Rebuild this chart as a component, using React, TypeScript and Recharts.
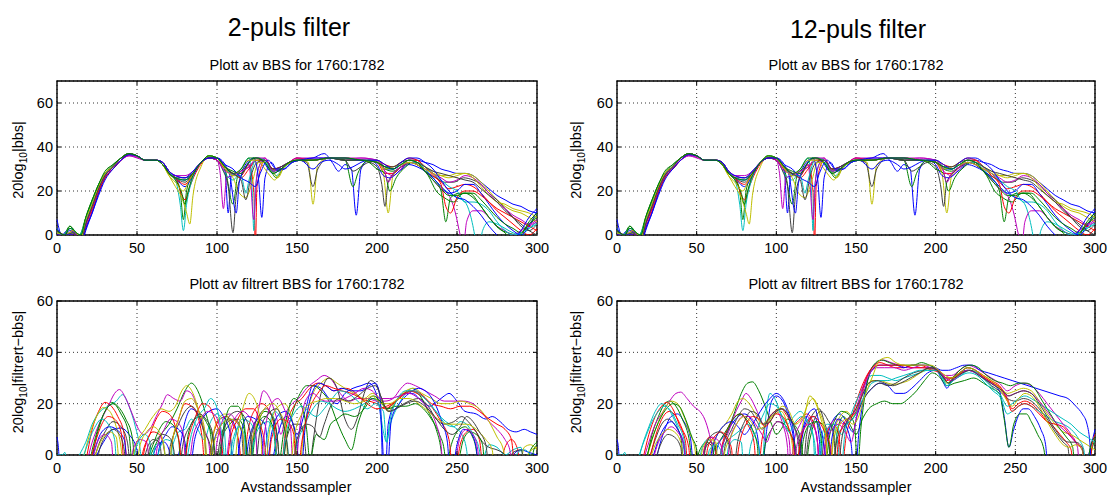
import React from 'react';
import { LineChart, Line, XAxis, YAxis, CartesianGrid, ReferenceArea, ReferenceLine } from 'recharts';

// MATLAB's old default colour order: b, g, r, c, m, y, k
const lineColors = ['#0000ff', '#008000', '#ff0000', '#00bfbf', '#bf00bf', '#bfbf00', '#404040'];
const xTicks = [0, 50, 100, 150, 200, 250, 300];
const yTicks = [0, 20, 40, 60];

// raw BBS, 20log10|bbs| — [sample, dB] knots per record (same in both top plots)
const rawBbs: number[][][] = [
  [[0,7],[3,0],[6,2],[9,3],[12,0],[15,-3],[18,5],[22,13],[26,21],[30,27],[35,31],[40,35],[45,37],[50,36],[55,34],[62,34],[66,32],[70,28],[74,26],[80,25],[85,28],[90,33],[95,35],[100,34],[105,29],[107,10],[109,27],[115,29],[120,34],[125,35],[129,33],[135,28],[140,30],[145,33],[150,34],[160,35],[167,37],[172,33],[176,29],[180,32],[184,30],[187,9],[190,30],[195,34],[200,33],[205,30],[210,30],[215,32],[220,34],[225,34],[230,33],[235,32],[240,30],[245,29],[250,28],[255,28],[260,27],[265,24],[270,21],[275,18],[280,16],[285,14],[290,13],[295,11],[300,10]],
  [[0,2],[4,0],[8,4],[11,2],[14,0],[18,8],[22,15],[26,22],[30,28],[35,31],[40,35],[45,37],[50,36],[55,34],[62,34],[66,32],[70,28],[74,26],[77,20],[79,7],[81,20],[85,28],[90,33],[95,36],[100,35],[105,30],[110,14],[113,27],[118,31],[123,35],[128,34],[133,30],[137,26],[142,31],[147,33],[152,34],[160,34],[170,35],[180,34],[185,22],[188,28],[195,34],[200,33],[205,30],[210,29],[215,31],[220,33],[225,32],[230,29],[235,26],[240,20],[243,6],[246,17],[252,19],[258,19],[264,14],[270,8],[276,3],[282,1],[288,0],[294,4],[300,8]],
  [[0,1],[5,0],[10,1],[15,-4],[18,3],[22,11],[26,19],[30,26],[35,30],[40,34],[45,37],[50,36],[55,34],[62,34],[66,33],[70,29],[74,26],[80,16],[83,22],[88,30],[95,35],[100,35],[105,31],[110,27],[115,27],[120,32],[123,20],[124,-5],[125,22],[130,34],[135,29],[140,31],[145,33],[150,34],[160,34],[170,35],[180,34],[190,34],[200,33],[205,28],[210,28],[215,31],[220,34],[225,34],[230,31],[235,28],[240,24],[245,21],[250,22],[255,23],[260,22],[265,19],[270,15],[275,11],[280,8],[285,5],[290,2],[295,0],[300,3]],
  [[0,3],[4,0],[8,3],[11,2],[14,0],[18,7],[22,15],[26,23],[30,28],[35,31],[40,35],[45,37],[50,36],[55,34],[62,34],[66,32],[70,28],[74,25],[77,14],[79,2],[81,14],[85,26],[90,33],[95,35],[100,34],[105,28],[110,25],[115,30],[120,35],[122,20],[123,2],[124,22],[128,33],[133,31],[137,27],[142,31],[147,33],[152,34],[160,34],[170,35],[180,34],[190,34],[200,33],[205,31],[210,30],[215,32],[220,34],[225,33],[230,30],[235,26],[240,22],[245,19],[250,17],[255,15],[258,10],[261,0],[263,-10],[266,2],[270,6],[275,5],[280,3],[285,1],[290,0],[295,3],[300,6]],
  [[0,0],[5,0],[10,0],[15,-3],[18,4],[22,12],[26,20],[30,27],[35,30],[40,34],[45,36],[50,35.5],[55,34],[62,34],[66,33],[70,29],[74,27],[80,27],[85,29],[90,33],[95,35],[100,34],[102,28],[104,12],[106,26],[110,27],[115,28],[120,32],[123,7],[125,28],[130,35],[135,30],[140,31],[145,33],[150,35],[160,34],[170,35],[180,34],[190,35],[200,34],[205,29],[210,27],[215,30],[220,33],[225,32],[230,29],[235,25],[240,21],[245,18],[249,10],[252,0],[254,-5],[256,6],[260,11],[265,11],[270,8],[275,4],[280,2],[285,0],[290,2],[295,4],[300,6]],
  [[0,1],[5,0],[10,1],[15,-2],[18,6],[22,14],[26,22],[30,28],[35,31],[40,35],[45,37],[50,36],[55,34],[62,34],[66,32],[70,27],[74,22],[78,17],[81,10],[83,5],[85,18],[90,31],[95,36],[100,35],[105,30],[110,26],[114,19],[118,17],[122,24],[126,33],[130,33],[135,29],[138,26],[142,31],[147,33],[152,34],[157,33],[160,14],[163,32],[170,35],[180,35],[190,34],[200,34],[204,28],[207,10],[210,27],[215,31],[220,33],[225,33],[230,31],[235,29],[240,27],[245,26],[250,27],[255,28],[260,27],[265,24],[270,20],[275,16],[280,13],[285,11],[290,10],[295,8],[300,6]],
  [[0,2],[5,0],[10,2],[15,-3],[18,5],[22,13],[26,21],[30,27],[35,31],[40,35],[45,37],[50,36],[55,34],[62,34],[66,32],[70,28],[74,26],[80,24],[85,28],[90,33],[95,35],[100,34],[104,29],[107,22],[110,1],[112,18],[116,28],[120,31],[125,34],[130,34],[135,29],[140,30],[145,33],[150,34],[156,33],[160,22],[163,30],[170,35],[180,34],[185,29],[190,31],[195,33],[200,31],[203,23],[205,13],[207,24],[212,29],[218,32],[222,33],[227,31],[232,28],[237,26],[242,24],[248,24],[254,26],[260,25],[265,23],[270,19],[275,16],[280,12],[285,8],[290,4],[295,2],[300,5]],
  [[0,3],[4,0],[8,2],[12,0],[15,-4],[18,3],[22,10],[26,19],[30,26],[35,30],[40,34],[45,36.5],[50,36],[55,34],[62,34],[66,33],[70,29],[74,26],[80,22],[85,27],[90,33],[95,35],[100,35],[105,32],[108,27],[112,10],[114,24],[118,31],[123,35],[126,25],[128,8],[130,26],[134,33],[138,29],[142,30],[147,33],[152,34],[160,30],[165,33],[170,34],[176,32],[180,30],[185,31],[190,33],[195,34],[200,32],[204,27],[208,26],[214,29],[220,32],[225,31],[230,29],[235,26],[240,22],[245,19],[250,20],[255,23],[260,23],[265,19],[270,14],[275,9],[280,5],[285,2],[290,0],[295,4],[300,11]],
  [[0,2],[5,0],[8,3],[12,1],[15,0],[18,8],[22,16],[26,23],[30,28],[35,32],[40,35],[45,37],[50,36],[55,34],[62,34],[66,32],[70,28],[74,25],[78,19],[80,14],[82,20],[86,29],[90,33],[95,36],[100,35],[105,31],[110,29],[115,28],[120,33],[125,35],[130,34],[135,30],[140,30],[145,33],[150,34],[160,34],[170,35],[180,34],[190,34],[195,33],[200,30],[205,28],[208,20],[212,26],[218,31],[222,33],[227,31],[232,27],[237,20],[242,17],[248,15],[254,19],[260,19],[265,16],[270,12],[275,8],[280,5],[285,3],[290,1],[295,5],[300,9]],
  [[0,2],[5,0],[10,1],[15,-3],[18,5],[22,12],[26,20],[30,26],[35,30],[40,34],[45,36.5],[50,36],[55,34],[62,34],[66,33],[70,29],[74,26],[80,23],[85,28],[90,33],[95,35],[100,34],[105,30],[110,28],[115,26],[120,30],[125,34],[130,34],[135,30],[140,31],[145,33],[150,35],[160,34],[170,35],[180,35],[190,34],[200,34],[205,32],[210,31],[215,33],[220,35],[225,34],[230,31],[235,27],[240,23],[243,13],[246,10],[250,17],[255,20],[260,20],[265,18],[270,15],[275,12],[280,10],[285,8],[290,6],[295,4],[300,2]],
  [[0,1],[5,0],[10,1],[15,-2],[18,6],[22,13],[26,21],[30,27],[35,31],[40,35],[45,37],[50,36],[55,34],[62,34],[66,33],[70,29],[74,26],[80,25],[85,29],[90,33],[95,36],[100,35],[105,31],[110,27],[115,27],[118,19],[120,25],[125,35],[130,34],[135,29],[140,31],[145,33],[150,34],[160,34],[170,35],[180,35],[190,34],[200,34],[205,31],[210,30],[215,32],[220,33],[225,33],[230,31],[235,28],[240,25],[245,22],[250,20],[255,15],[260,15],[265,14],[270,11],[275,6],[280,2],[285,0],[290,1],[295,3],[300,5]],
  [[0,2],[5,0],[10,2],[15,-3],[18,5],[22,13],[26,21],[30,27],[35,31],[40,34],[45,36],[50,35],[55,34],[62,34],[66,33],[70,29],[74,27],[80,26],[85,29],[90,33],[95,35],[100,34],[105,29],[110,28],[115,29],[120,31],[125,35],[130,35],[135,29],[140,31],[145,33],[150,35],[160,35],[170,35],[180,35],[190,35],[200,34],[204,31],[207,24],[210,28],[215,31],[220,33],[225,32],[230,30],[235,28],[240,26],[245,24],[250,25],[255,27],[260,26],[265,23],[270,19],[275,15],[280,12],[285,9],[290,7],[295,5],[300,7]],
  [[0,1],[5,0],[10,2],[15,-1],[18,7],[22,14],[26,22],[30,28],[35,31],[40,35],[45,37],[50,36],[55,34],[62,34],[66,32],[70,27],[74,24],[79,20],[82,24],[86,29],[90,33],[95,36],[100,35],[105,30],[110,27],[115,30],[120,34],[125,34],[130,30],[133,27],[136,25],[140,29],[145,33],[150,34],[160,34],[170,35],[180,35],[190,34],[200,33],[205,30],[210,31],[215,32],[220,33],[225,32],[230,30],[235,28],[240,27],[245,27],[250,28],[255,28],[260,26],[265,22],[270,18],[275,15],[280,14],[285,12],[290,11],[295,10],[300,8]],
  [[0,2],[5,0],[10,1],[15,-3],[18,5],[22,13],[26,21],[30,27],[35,31],[40,35],[45,37],[50,36],[55,34],[62,34],[66,33],[70,28],[74,26],[80,26],[85,28],[90,33],[95,35],[100,35],[105,31],[110,28],[115,25],[118,16],[121,26],[125,33],[130,34],[135,30],[140,31],[145,33],[150,34],[160,34],[170,35],[180,34],[190,34],[200,33],[205,31],[210,31],[215,33],[220,34],[225,33],[230,31],[235,29],[240,28],[245,27],[250,26],[255,25],[260,24],[265,21],[270,18],[275,15],[280,11],[285,8],[290,5],[295,2],[300,0]],
  [[0,0],[5,0],[10,0],[15,-5],[18,2],[22,10],[26,18],[30,25],[35,30],[40,34],[45,36.5],[50,36],[55,34],[62,34],[66,33],[70,29],[74,27],[80,26],[85,29],[90,33],[95,35],[100,35],[105,32],[110,30],[115,26],[120,24],[124,22],[127,28],[132,34],[137,30],[142,30],[147,33],[152,34],[160,35],[170,35],[180,35],[190,34],[200,34],[205,32],[210,30],[215,33],[220,35],[225,35],[230,33],[235,30],[240,25],[245,20],[250,17],[255,16],[260,13],[265,9],[270,4],[275,0],[280,-3],[285,-2],[290,2],[295,8],[300,12]],
  [[0,2],[5,0],[8,4],[12,1],[15,0],[18,8],[22,16],[26,23],[30,29],[35,32],[40,35],[45,37],[50,36],[55,34],[62,34],[66,32],[70,28],[74,26],[80,25],[85,28],[90,33],[95,36],[100,35],[105,31],[110,28],[115,30],[120,35],[125,35],[130,33],[135,28],[140,30],[145,33],[150,34],[160,34],[170,35],[180,35],[190,34],[200,33],[205,31],[210,30],[215,32],[220,34],[225,33],[230,29],[235,25],[240,21],[245,18],[250,18],[255,19],[260,17],[265,13],[270,8],[275,4],[280,1],[285,-2],[290,0],[295,6],[300,10]],
];

// 2-puls filtered BBS, 20log10|filtrert-bbs|
const filt2: number[][][] = [
  [[0,7],[1,2],[2,-10],[20,-10],[25,0],[30,6],[35,10],[40,10.5],[45,8],[50,2],[53,-10],[58,-5],[62,3],[67,5],[70,2],[72,-10],[76,0],[80,13],[84,18],[88,16],[92,8],[95,-10],[98,5],[103,12],[108,14],[112,10],[116,-10],[120,6],[126,14],[130,12],[133,-5],[138,8],[143,15],[147,13],[150,8],[155,17],[160,27],[165,26],[170,22],[175,20],[180,24],[185,26],[190,27],[195,28],[200,23],[203,10],[205,-10],[207,12],[212,21],[217,24],[222,24],[228,21],[233,19],[238,21],[242,23],[245,24],[250,21],[255,17],[262,16],[268,14],[272,15],[277,13],[282,10],[287,9],[292,10],[296,9],[300,8]],
  [[0,0],[10,-10],[20,-5],[25,8],[30,17],[34,20.5],[38,19],[43,14],[47,7],[50,-10],[55,-5],[60,2],[65,8],[70,12],[75,18],[80,25],[84,28],[88,25],[92,18],[96,8],[99,-10],[103,6],[108,12],[113,14],[117,10],[120,-10],[124,8],[130,17],[135,15],[138,5],[140,-10],[143,5],[148,18],[152,24],[156,27],[160,27],[165,25],[170,21],[175,13],[180,6],[184,2],[188,12],[193,20],[198,23],[202,21],[206,18],[212,21],[217,24],[222,25],[227,23],[232,17],[237,10],[240,2],[242,-10],[246,3],[250,9],[255,11],[259,8],[262,2],[264,-10],[290,-10],[296,2],[300,5]],
  [[0,0],[12,-10],[18,-2],[22,10],[26,17],[30,20.5],[34,19],[38,15],[42,8],[45,-10],[52,-6],[55,3],[60,9],[64,8],[67,2],[69,-10],[72,5],[76,14],[80,20],[84,19],[88,15],[91,5],[93,-10],[97,6],[102,14],[106,15],[110,12],[114,4],[116,-10],[119,8],[124,18],[128,20],[132,18],[136,10],[139,-10],[143,10],[148,19],[153,22],[158,26],[163,28],[168,27],[173,25],[180,26],[185,25],[190,22],[195,21],[200,20],[205,18],[210,20],[215,23],[220,25],[225,24],[230,22],[235,18],[240,13],[245,6],[248,-10],[252,4],[256,9],[260,10],[264,6],[267,-10],[275,-10],[280,3],[284,6],[288,2],[290,-10],[300,-10]],
  [[0,0],[3,0],[5,1],[7,-10],[14,0],[18,5],[22,12],[27,17],[32,19],[37,21],[41,23.5],[45,19],[49,11],[52,2],[54,-10],[58,-6],[62,4],[66,5],[69,-5],[72,3],[76,9],[80,10],[84,14],[88,10],[92,6],[96,13],[100,16],[104,13],[107,-10],[111,6],[116,14],[120,13],[124,8],[127,-10],[131,6],[136,17],[140,14],[144,4],[146,-10],[150,4],[155,12],[160,18],[165,21],[170,20],[175,18],[180,17],[186,18],[192,20],[197,22],[201,20],[204,9],[206,5],[208,11],[213,19],[218,24],[222,26],[227,24],[233,20],[238,16],[243,13],[248,11],[253,8],[256,2],[258,-10],[265,-5],[270,4],[275,3],[280,0],[285,2],[290,3],[293,-10],[300,-10]],
  [[0,0],[12,-10],[18,-4],[22,5],[27,13],[32,19],[36,24],[39,25.5],[43,22],[47,16],[51,10],[54,8],[58,10],[62,15],[66,20],[69,23.5],[73,22],[77,21],[81,25],[84,24],[88,18],[92,10],[95,4],[97,-10],[100,5],[104,14],[108,16],[112,13],[116,8],[119,-10],[122,5],[126,18],[129,25],[133,22],[137,15],[140,8],[143,16],[147,20],[151,22],[156,26],[162,29],[167,31],[172,29],[177,24],[183,21],[188,22],[194,22],[200,21],[205,21],[210,22],[215,26],[219,28],[224,27],[230,25],[236,23],[242,21],[248,21],[254,21],[260,20],[265,17],[270,13],[275,10],[280,6],[283,2],[285,-10],[300,-10]],
  [[0,0],[10,-10],[15,-5],[19,5],[24,14],[29,18.5],[33,17],[37,11],[40,3],[42,-10],[46,-4],[50,5],[55,10],[60,15],[65,18],[70,17],[74,19],[78,25],[81,27],[85,24],[89,16],[92,7],[94,-10],[97,6],[101,14],[105,16],[108,12],[110,-10],[113,8],[117,20],[120,24],[124,21],[127,13],[129,-10],[133,10],[137,18],[142,20],[146,16],[149,5],[151,-10],[154,8],[160,24],[165,28],[170,30],[175,28],[180,26],[186,24],[192,22],[197,24],[202,22],[207,17],[212,21],[218,25],[223,26],[228,24],[234,22],[240,20],[246,20],[252,21],[258,20],[264,18],[270,13],[275,7],[279,2],[282,-10],[290,-10],[295,1],[300,3]],
  [[0,0],[15,-10],[22,-4],[26,4],[30,9],[35,13],[40,11],[44,5],[47,-10],[52,-8],[56,2],[60,6],[64,5],[67,-10],[71,4],[76,12],[80,17],[84,19],[88,16],[92,9],[96,3],[98,-10],[102,6],[107,13],[111,14],[115,10],[118,-10],[121,6],[126,15],[131,18],[135,14],[138,5],[140,-10],[143,5],[148,12],[152,12],[155,4],[157,-10],[160,5],[165,24],[170,30],[175,26],[180,14],[184,10],[188,15],[192,24],[196,29],[200,27],[204,20],[208,17],[214,19],[220,21],[226,22],[232,19],[237,14],[242,12],[248,13],[253,15],[257,13],[262,9],[266,5],[270,3],[275,2],[280,0],[284,-10],[300,-10]],
  [[0,0],[15,-10],[20,-6],[24,3],[28,9],[33,11],[37,10],[42,6],[45,-10],[60,-10],[64,3],[68,8],[72,11],[76,10],[80,5],[82,-10],[86,6],[90,13],[95,17],[100,18],[104,15],[108,9],[111,-10],[115,8],[119,15],[124,14],[128,7],[130,-10],[134,8],[139,16],[143,17],[147,13],[150,4],[152,-10],[155,10],[160,25],[164,28],[168,27],[173,25],[178,26],[184,25],[190,25],[195,27],[199,28],[202,22],[204,-10],[206,-10],[209,14],[214,20],[220,24],[226,26],[232,24],[237,19],[241,12],[244,5],[246,-10],[250,4],[254,10],[258,9],[262,3],[264,-10],[280,-10],[285,0],[290,2],[295,1],[300,0]],
  [[0,0],[18,-10],[22,2],[26,11],[30,17],[35,20],[40,16],[45,8],[48,-10],[55,-4],[60,4],[64,10],[68,13],[72,12],[76,6],[78,-10],[82,8],[86,14],[90,15],[94,12],[98,5],[100,-10],[104,10],[109,19],[113,19],[117,12],[120,-5],[124,10],[130,15],[135,11],[138,-5],[142,10],[148,22],[152,20],[156,10],[158,-2],[162,8],[167,6],[171,12],[175,14],[180,16],[186,15],[192,18],[197,22],[202,21],[207,18],[212,19],[218,19],[224,20],[229,18],[234,14],[239,8],[242,2],[244,-10],[250,-5],[254,6],[258,9],[262,8],[266,4],[268,-10],[295,-10],[298,2],[300,4]],
  [[0,0],[16,-10],[20,-4],[24,5],[28,12],[32,15],[36,14],[40,9],[43,-10],[50,-10],[54,2],[58,8],[62,14],[66,17],[70,16],[74,11],[77,2],[78,-10],[82,6],[86,14],[91,20],[95,19],[99,13],[103,4],[105,-10],[108,5],[113,14],[118,18],[123,18],[127,12],[130,3],[131,-10],[134,6],[140,14],[144,13],[148,8],[150,-10],[153,5],[158,18],[163,24],[168,27],[173,26],[178,25],[184,24],[190,22],[196,19],[200,18],[206,19],[212,21],[218,24],[223,25],[229,23],[234,20],[240,19],[246,18],[252,19],[258,19],[264,17],[270,14],[275,12],[280,10],[284,6],[287,-10],[300,-10]],
  [[0,0],[8,-10],[15,-3],[19,4],[23,10],[28,14],[32,12],[36,6],[38,-10],[45,-10],[50,4],[55,8],[58,5],[60,-10],[64,2],[68,6],[72,5],[74,-10],[80,-5],[84,8],[88,15],[92,18],[96,22],[99,20],[102,12],[104,3],[106,-10],[110,6],[114,11],[117,8],[119,-10],[123,5],[128,12],[132,13],[136,7],[139,-10],[143,8],[148,16],[153,19],[157,17],[162,15],[167,18],[172,22],[177,25],[182,24],[188,21],[194,18],[199,20],[204,17],[206,5],[208,13],[213,22],[218,25],[223,25],[228,23],[233,20],[238,16],[243,12],[248,11],[252,13],[256,12],[260,8],[264,2],[266,-10],[284,-10],[288,1],[292,2],[296,0],[298,-10],[300,-10]],
  [[0,0],[18,-10],[22,-2],[26,6],[30,8],[34,5],[36,-10],[44,-10],[48,3],[52,6],[56,5],[59,-10],[63,4],[67,10],[71,14],[75,13],[79,8],[81,-10],[85,7],[90,14],[94,17],[98,16],[102,10],[104,-10],[108,8],[112,15],[116,17],[120,15],[124,10],[126,-10],[130,10],[134,20],[138,22],[142,18],[146,10],[148,-10],[152,12],[156,22],[160,24],[164,22],[168,21],[174,21],[180,22],[186,24],[192,26],[197,25],[202,22],[208,22],[214,23],[220,24],[226,22],[232,18],[237,12],[240,4],[242,-10],[248,-5],[252,7],[256,10],[260,8],[263,2],[265,-10],[300,-10]],
  [[0,0],[20,-10],[24,0],[28,6],[33,9],[37,7],[40,-10],[48,-10],[52,4],[56,9],[60,11],[64,9],[67,3],[69,-10],[72,5],[76,14],[80,21],[84,22],[88,18],[92,11],[95,-10],[98,4],[103,12],[108,14],[112,13],[116,9],[118,-10],[122,6],[127,15],[131,19],[135,20],[139,17],[143,10],[145,-10],[148,6],[153,16],[158,20],[163,21],[168,22],[174,22],[180,21],[186,20],[192,21],[197,23],[203,20],[208,20],[214,22],[220,22],[226,20],[232,17],[238,14],[244,12],[250,12],[256,12],[262,10],[268,6],[272,2],[274,-10],[288,-10],[292,3],[296,4],[300,2]],
  [[0,0],[22,-10],[27,3],[31,8],[35,10],[39,8],[42,2],[44,-10],[55,-10],[58,3],[62,6],[66,8],[70,7],[73,2],[75,-10],[79,5],[84,12],[89,16],[93,14],[97,9],[100,-10],[104,8],[109,16],[113,17],[117,15],[121,8],[123,-10],[127,10],[132,16],[137,18],[141,13],[144,3],[146,-10],[150,6],[156,12],[160,11],[164,7],[167,12],[172,20],[177,22],[182,21],[188,23],[194,26],[199,27],[203,22],[207,17],[212,18],[218,20],[224,21],[230,19],[236,15],[242,10],[247,8],[252,11],[256,15],[260,13],[264,9],[268,4],[271,-10],[280,-10],[285,1],[290,2],[294,-10],[300,-10]],
];

// 12-puls filtered BBS, 20log10|filtrert-bbs|
const filt12: number[][][] = [
  [[0,6],[1,2],[2,-10],[22,-10],[26,2],[30,10],[34,15],[38,16],[42,13],[46,7],[49,-10],[60,-10],[63,3],[68,8],[72,12],[76,15],[80,16],[84,14],[88,8],[91,-5],[94,10],[97,21],[100,23],[104,21],[108,14],[111,5],[113,-10],[116,6],[120,14],[124,15],[127,6],[129,-10],[132,6],[136,14],[140,16],[144,13],[148,9],[151,16],[155,22],[160,26],[165,28],[170,27],[175,24],[180,24],[185,26],[190,29],[195,32],[200,33],[205,28],[207,26],[210,29],[215,32],[220,33],[225,32],[230,30],[235,28],[240,25],[243,15],[246,3],[249,10],[255,18],[258,18],[262,15],[266,10],[269,4],[271,-10],[290,-10],[296,0],[300,10]],
  [[0,0],[14,-10],[18,-3],[22,8],[26,15],[30,20],[33,21],[37,19],[41,14],[45,7],[48,-5],[52,2],[56,5],[60,3],[62,-10],[66,3],[70,10],[74,17],[78,24],[82,28],[85,28.5],[89,25],[93,19],[97,12],[100,8],[103,10],[107,14],[111,12],[115,7],[118,-5],[121,6],[125,13],[129,12],[133,4],[135,-10],[138,8],[142,15],[146,12],[150,8],[154,14],[158,18],[163,20],[168,21],[173,20],[178,20],[183,22],[188,25],[193,29],[198,32],[203,30],[207,27],[212,28],[218,29],[224,30],[230,28],[235,26],[240,24],[243,14],[246,3],[249,12],[253,16],[257,16],[260,13],[264,8],[268,2],[270,-10],[295,-10],[298,2],[300,6]],
  [[0,0],[12,-10],[16,-2],[20,8],[24,15],[28,19],[31,20.5],[35,18],[39,12],[43,5],[45,-10],[52,-8],[55,3],[58,7],[61,6],[63,-5],[66,4],[70,11],[74,15],[78,16],[82,12],[86,5],[88,-10],[91,6],[95,14],[99,17],[103,18],[107,15],[111,12],[115,14],[119,16],[123,13],[126,4],[128,-10],[131,6],[135,12],[139,9],[141,-5],[144,8],[148,16],[152,24],[156,30],[160,34],[165,36],[170,35],[175,34],[180,34],[185,35],[190,35],[195,34],[200,33],[204,31],[207,29],[210,30],[215,32],[220,34],[225,33],[230,31],[235,29],[240,27],[245,22],[248,18],[252,20],[256,21],[260,20],[265,17],[270,13],[274,11],[278,8],[282,5],[285,2],[287,-10],[296,-10],[298,3],[300,8]],
  [[0,0],[3,0],[5,1],[7,-10],[12,-5],[16,4],[20,11],[24,17],[28,20],[31,19],[35,15],[39,9],[42,2],[44,-10],[50,-10],[53,2],[57,6],[60,4],[62,-10],[66,2],[70,6],[74,8],[78,10],[82,12],[86,8],[89,3],[91,-5],[93,12],[96,24],[99,22],[103,16],[107,12],[111,15],[115,17],[119,14],[123,8],[125,-10],[128,6],[132,12],[136,11],[139,2],[140,-10],[143,8],[147,16],[151,22],[155,27],[160,31],[165,31],[170,30],[175,29],[180,30],[185,31],[190,32],[195,33],[200,33],[204,30],[207,27],[211,29],[216,31],[221,32],[226,31],[231,28],[236,25],[241,22],[245,16],[248,17],[252,19],[256,20],[260,19],[265,17],[270,15],[275,13],[280,12],[285,10],[290,6],[293,2],[295,-10],[300,-10]],
  [[0,0],[10,-10],[16,-3],[20,5],[24,12],[29,17],[33,21],[37,24],[40,24.5],[44,22],[48,19],[52,17],[55,14],[58,8],[60,2],[62,-10],[66,3],[70,9],[74,16],[78,21],[81,24],[84,22],[88,17],[92,12],[96,15],[100,17],[104,12],[107,3],[108,-10],[111,5],[115,12],[119,15],[123,12],[126,4],[127,-10],[130,6],[134,12],[138,14],[142,12],[146,14],[150,18],[154,26],[158,32],[163,36],[167,37],[172,36],[177,35],[182,34],[187,34],[192,34],[197,34],[202,33],[206,31],[210,31],[215,33],[220,35],[225,34],[230,32],[235,30],[240,28],[245,25],[250,27],[255,28],[260,27],[265,24],[270,20],[275,16],[280,12],[285,8],[289,3],[291,-10],[300,-10]],
  [[0,0],[15,-10],[18,-3],[22,6],[26,13],[30,18],[34,21],[38,20],[42,15],[46,8],[49,2],[51,-10],[56,-5],[60,4],[64,9],[68,12],[72,16],[76,21],[79,22],[83,20],[87,16],[91,12],[95,14],[99,16],[103,17],[107,12],[110,4],[112,-8],[115,6],[118,16],[121,23],[124,21],[128,14],[131,6],[133,-10],[136,8],[140,15],[144,17],[148,15],[152,20],[156,26],[160,29],[165,29],[170,28],[174,27.5],[178,28],[183,29],[188,31],[193,33],[198,34],[203,32],[207,28],[211,30],[216,32],[221,33],[226,32],[231,30],[236,28],[241,26],[245,24],[250,25],[255,26],[260,25],[265,21],[270,16],[275,12],[280,9],[285,8],[290,6],[295,4],[300,2]],
  [[0,0],[16,-10],[20,-2],[24,6],[28,12],[32,14],[36,12],[40,7],[43,-10],[52,-10],[55,2],[59,5],[62,2],[64,-10],[68,4],[72,10],[76,15],[80,18],[84,17],[88,13],[91,10],[95,14],[99,17],[103,18],[107,16],[111,11],[114,4],[116,-10],[119,8],[123,16],[127,18],[130,13],[133,5],[135,-10],[138,6],[142,11],[146,13],[150,16],[155,22],[160,26],[165,28],[170,27],[175,28],[180,30],[186,32],[192,33],[197,34],[202,33],[206,30],[210,30],[215,32],[220,34],[225,33],[230,30],[235,27],[240,25],[245,22],[250,21],[255,22],[260,21],[265,18],[270,14],[275,9],[280,5],[283,3],[285,-10],[300,-10]],
  [[0,0],[18,-10],[22,-2],[26,6],[30,11],[34,13],[38,10],[42,4],[44,-10],[56,-10],[60,3],[64,9],[68,12],[72,13],[76,11],[80,8],[84,11],[88,15],[92,19],[96,22],[100,24],[104,22],[108,16],[111,8],[113,-5],[116,8],[120,16],[124,18],[127,12],[130,3],[132,-10],[135,7],[139,14],[143,12],[147,4],[149,-10],[152,10],[156,26],[160,33],[165,35],[170,35],[175,35],[180,34],[185,35],[190,35],[195,35],[200,34],[204,33],[208,33],[213,34],[218,35],[223,35],[228,33],[233,32],[238,31],[243,30],[248,29],[253,28],[258,27],[263,26],[268,25],[273,24],[278,23],[283,22],[288,19],[292,16],[295,12],[297,3],[298,-10],[300,-10]],
  [[0,0],[15,-10],[19,0],[23,8],[27,14],[31,18],[35,20],[39,19],[43,14],[47,7],[50,2],[52,-10],[58,-10],[61,2],[65,6],[69,10],[73,14],[77,16],[81,14],[85,10],[88,4],[90,-10],[93,4],[97,10],[101,13],[105,12],[109,8],[112,3],[114,-10],[117,6],[121,12],[125,13],[128,7],[130,-10],[133,6],[137,14],[141,17],[145,16],[149,12],[151,-5],[153,10],[157,28],[161,35],[166,37],[171,36],[176,35],[181,35],[186,35],[191,36],[196,35],[201,33],[205,30],[208,28],[212,31],[217,34],[222,35],[227,34],[232,31],[237,29],[242,28],[247,27],[252,28],[257,28],[262,26],[267,21],[272,16],[277,11],[282,7],[286,3],[288,-10],[294,-10],[297,3],[300,7]],
  [[0,0],[17,-10],[21,0],[25,9],[29,15],[33,17],[37,15],[41,10],[45,3],[47,-10],[54,-10],[57,3],[61,7],[65,9],[69,7],[72,2],[73,-10],[77,5],[81,12],[85,15],[89,14],[93,11],[96,13],[100,16],[104,15],[108,10],[111,3],[112,-10],[115,5],[119,12],[123,15],[127,13],[131,8],[134,3],[136,-10],[139,5],[143,13],[147,15],[151,18],[155,27],[159,33],[164,35],[169,35],[174,35],[180,35],[186,34],[192,34],[198,33],[203,32],[207,30],[211,30],[216,32],[221,33],[226,32],[231,30],[236,28],[241,26],[245,21],[248,17],[252,19],[256,20],[260,19],[265,16],[270,13],[275,12],[280,11],[284,8],[288,5],[292,2],[294,-10],[300,-10]],
  [[0,0],[10,-10],[14,0],[18,7],[22,13],[26,17],[30,19],[34,17],[38,12],[42,6],[45,-10],[55,-10],[58,2],[62,4],[65,2],[67,-10],[70,3],[74,6],[78,5],[80,-10],[84,4],[88,10],[92,16],[96,20],[100,19],[104,14],[108,9],[112,13],[116,15],[120,12],[124,5],[126,-10],[129,5],[133,11],[137,12],[141,8],[144,12],[148,14],[152,19],[156,24],[160,28],[165,29],[170,29],[175,30],[180,31],[185,32],[190,33],[195,33],[200,33],[204,31],[207,27],[211,29],[216,31],[221,33],[226,32],[231,29],[236,26],[241,23],[245,19],[248,20],[252,22],[256,23],[260,22],[265,20],[270,18],[275,16],[280,14],[285,12],[290,9],[295,7],[300,5]],
  [[0,0],[18,-10],[22,-3],[26,5],[30,9],[34,11],[38,9],[42,4],[44,-10],[52,-10],[55,3],[59,7],[63,6],[66,2],[68,-10],[71,6],[75,12],[79,15],[83,15],[87,12],[91,8],[94,5],[97,10],[101,13],[105,11],[108,6],[110,-10],[113,4],[117,10],[121,12],[125,9],[128,-10],[131,4],[135,10],[139,12],[143,9],[147,5],[150,14],[154,24],[158,31],[163,34],[168,34],[174,34],[180,33],[186,34],[192,35],[197,34],[202,33],[206,30],[210,29],[215,31],[220,33],[225,32],[230,30],[235,28],[240,26],[245,23],[250,24],[255,25],[260,24],[265,21],[270,17],[275,13],[280,10],[285,7],[289,4],[292,2],[294,-10],[300,-10]],
  [[0,0],[16,-10],[20,-3],[24,4],[28,8],[32,10],[36,9],[40,5],[43,-10],[50,-10],[54,3],[58,6],[62,5],[64,-10],[68,2],[72,8],[76,13],[80,15],[84,13],[88,10],[92,11],[96,14],[100,17],[104,19],[108,17],[112,12],[116,14],[120,20],[123,22],[127,17],[131,8],[133,-10],[136,6],[140,12],[144,14],[148,12],[151,14],[155,22],[160,30],[165,37],[170,38],[175,36],[180,35],[186,35],[192,35],[197,35],[202,33],[206,31],[210,30],[215,32],[220,34],[225,33],[230,31],[235,29],[240,26],[245,21],[248,19],[252,22],[256,24],[260,23],[265,19],[270,13],[275,8],[280,4],[284,3],[288,4],[292,2],[294,-10],[300,-10]],
  [[0,0],[20,-10],[24,-2],[28,5],[32,8],[36,7],[40,3],[42,-10],[52,-10],[56,4],[60,8],[64,9],[68,7],[71,2],[72,-10],[76,6],[80,13],[84,17],[88,16],[92,12],[96,13],[100,17],[104,18],[108,15],[112,10],[115,4],[117,-10],[120,6],[124,14],[128,17],[132,14],[136,8],[138,-10],[141,6],[145,14],[149,17],[153,22],[158,28],[163,29],[168,28],[173,27],[178,28],[184,30],[190,32],[196,34],[201,33],[205,30],[208,28],[212,30],[217,32],[222,33],[227,31],[232,29],[237,27],[242,25],[246,23],[250,24],[255,25],[260,24],[265,20],[270,15],[275,10],[280,6],[284,5],[288,5],[292,3],[295,-10],[300,-10]],
];

const FONT = '"Liberation Sans", Arial, Helvetica, sans-serif';
const tickStyle = { fill: '#000', fontSize: 14.5, fontFamily: FONT };

function Panel({ lines, yMax, left, top, height, marginTop, rightPad }: {
  lines: number[][][]; yMax: number; left: number; top: number; height: number; marginTop: number; rightPad: number;
}) {
  const series = lines.map((pts) => pts.map(([x, y]) => ({ x, y })));
  // MATLAB-style inward tick marks, about 4px long on every side of the box
  const plotH = height - marginTop - 27;
  const dy = (yMax / plotH) * 4;
  const dx = (300 / 480) * 4;
  return (
    <div style={{ position: 'absolute', left, top }}>
      <LineChart width={560} height={height} margin={{ top: marginTop, right: rightPad, bottom: 0, left: 17 }}>
        <CartesianGrid stroke="#333" strokeDasharray="1 3" strokeWidth={1} />
        <XAxis
          type="number"
          dataKey="x"
          domain={[0, 300]}
          ticks={xTicks}
          height={27}
          tick={tickStyle}
          tickLine={false}
          axisLine={false}
        />
        <YAxis
          type="number"
          domain={[0, yMax]}
          ticks={yTicks}
          width={40}
          allowDataOverflow
          tick={tickStyle}
          tickLine={false}
          tickSize={2}
          tickMargin={2}
          axisLine={false}
        />
        {series.map((d, i) => (
          <Line
            key={i}
            data={d}
            dataKey="y"
            type="monotone"
            stroke={lineColors[i % lineColors.length]}
            strokeWidth={1}
            dot={false}
            activeDot={false}
            isAnimationActive={false}
          />
        ))}
        {xTicks.slice(1, -1).map((t) => (
          <ReferenceLine key={`b${t}`} segment={[{ x: t, y: 0 }, { x: t, y: dy }]} stroke="#000" />
        ))}
        {xTicks.slice(1, -1).map((t) => (
          <ReferenceLine key={`t${t}`} segment={[{ x: t, y: yMax }, { x: t, y: yMax - dy }]} stroke="#000" />
        ))}
        {yTicks.slice(1).map((t) => (
          <ReferenceLine key={`l${t}`} segment={[{ x: 0, y: t }, { x: dx, y: t }]} stroke="#000" />
        ))}
        {yTicks.slice(1).map((t) => (
          <ReferenceLine key={`r${t}`} segment={[{ x: 300, y: t }, { x: 300 - dx, y: t }]} stroke="#000" />
        ))}
        <ReferenceArea x1={0} x2={300} y1={0} y2={yMax} fill="none" stroke="#000" strokeWidth={1.4} />
      </LineChart>
    </div>
  );
}

const centered = (x: number, y: number, size: number): React.CSSProperties => ({
  position: 'absolute',
  left: x,
  top: y,
  transform: 'translate(-50%, -50%)',
  fontFamily: FONT,
  fontSize: size,
  whiteSpace: 'nowrap',
  color: '#000',
  lineHeight: 1,
});

const yLabel = (x: number, y: number): React.CSSProperties => ({
  ...centered(x, y, 14.5),
  transform: 'translate(-50%, -50%) rotate(-90deg)',
});

export default function App() {
  return (
    <div style={{ position: 'absolute', left: 0, top: 0, width: 1112, height: 495, background: '#fff', overflow: 'hidden' }}>
      <div style={centered(289, 27, 25)}>2-puls filter</div>
      <div style={centered(858, 29, 25)}>12-puls filter</div>

      <div style={centered(297, 65, 14.5)}>Plott av BBS for 1760:1782</div>
      <div style={centered(856, 65, 14.5)}>Plott av BBS for 1760:1782</div>
      <div style={centered(297, 284, 14.5)}>Plott av filtrert BBS for 1760:1782</div>
      <div style={centered(856, 284, 14.5)}>Plott av filtrert BBS for 1760:1782</div>

      <Panel lines={rawBbs} yMax={70} left={0} top={0} height={262} marginTop={81} rightPad={23} />
      <Panel lines={rawBbs} yMax={70} left={560} top={0} height={262} marginTop={81} rightPad={25} />
      <Panel lines={filt2} yMax={60} left={0} top={262} height={220} marginTop={39} rightPad={23} />
      <Panel lines={filt12} yMax={60} left={560} top={262} height={220} marginTop={39} rightPad={25} />

      <div style={yLabel(20, 160)}>20log<sub style={{ fontSize: '70%' }}>10</sub>|bbs|</div>
      <div style={yLabel(578, 160)}>20log<sub style={{ fontSize: '70%' }}>10</sub>|bbs|</div>
      <div style={yLabel(20, 372)}>20log<sub style={{ fontSize: '70%' }}>10</sub>|filtrert−bbs|</div>
      <div style={yLabel(578, 372)}>20log<sub style={{ fontSize: '70%' }}>10</sub>|filtrert−bbs|</div>

      <div style={centered(296, 487, 14.5)}>Avstandssampler</div>
      <div style={centered(856, 487, 14.5)}>Avstandssampler</div>
    </div>
  );
}
